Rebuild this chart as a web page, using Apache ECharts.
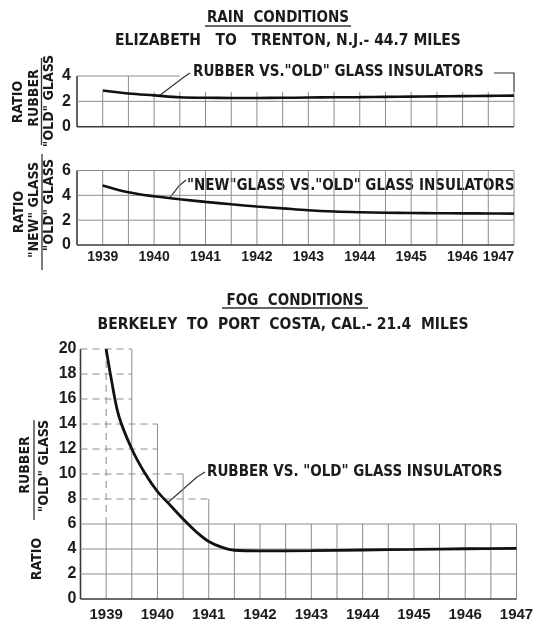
<!DOCTYPE html>
<html>
<head>
<meta charset="utf-8">
<script src="https://cdn.jsdelivr.net/npm/echarts@6/dist/echarts.min.js"></script>
<style>
  html, body { margin: 0; padding: 0; background: #fff; }
  #main { width: 537px; height: 622px; }
</style>
</head>
<body>
<div id="main"></div>
<script>
// years for the two rain curves (half-year readings)
var rainYears = [1939, 1939.5, 1940, 1940.5, 1941, 1941.5, 1942, 1942.5, 1943, 1943.5, 1944, 1944.5, 1945, 1945.5, 1946, 1946.5, 1947];
// rubber vs "old" glass, rain
var rubberRain = [2.86, 2.62, 2.47, 2.32, 2.28, 2.27, 2.27, 2.28, 2.3, 2.32, 2.33, 2.35, 2.37, 2.39, 2.41, 2.43, 2.45];
// "new" glass vs "old" glass, rain
var newGlassRain = [4.8, 4.25, 3.92, 3.68, 3.47, 3.28, 3.1, 2.95, 2.8, 2.7, 2.64, 2.6, 2.58, 2.56, 2.55, 2.54, 2.53];
// fog curve
var fogYears = [1939, 1939.1, 1939.25, 1939.5, 1939.75, 1940, 1940.25, 1940.5, 1940.75, 1941, 1941.25, 1941.5, 1942, 1943, 1944, 1945, 1946, 1947];
var rubberFog = [20, 17.6, 14.6, 12.0, 10.1, 8.6, 7.5, 6.4, 5.4, 4.6, 4.15, 3.9, 3.85, 3.87, 3.92, 3.97, 4.02, 4.05];

// axis labels
var yearLabels = [1939, 1940, 1941, 1942, 1943, 1944, 1945, 1946, 1947];
// stepped outline of the fog grid paper
var fogStepX = [1938.5, 1939.5, 1940, 1940.5, 1941, 1947];
var fogStepTop = [20, 14, 10, 8, 6];

var NUM_FONT = "'Liberation Sans', Arial, sans-serif";
var TXT_FONT = "'DejaVu Sans Condensed', 'DejaVu Sans', sans-serif";
var INK = '#1b1b1b';

var myChart = echarts.init(document.getElementById('main'));

//grid paper lines as segments [x1, y1, x2, y2, kind]
function halfYearList() {
    var a = [];
    for (var t = 1938.5; t <= 1947; t += 0.5) a.push(t);
    return a;
}
var halfYears = halfYearList();

function rubberRainGrid() {
    var s = [];
    halfYears.forEach(function (x) {
        var h = (x === 1938.5 || x === 1939.5) ? 4 : 2.75;
        s.push([x, 0, x, h, x === 1938.5 ? 2 : 0]);
    });
    s.push([1938.5, 0, 1947, 0, 2]);
    s.push([1938.5, 2, 1947, 2, 0]);
    s.push([1938.5, 4, 1940.5, 4, 0]);
    return s;
}
function newGlassGrid() {
    var s = [];
    halfYears.forEach(function (x) {
        s.push([x, 0, x, 6, x === 1938.5 ? 2 : 0]);
    });
    [0, 2, 4, 6].forEach(function (y) {
        s.push([1938.5, y, 1947, y, y === 0 ? 2 : 0]);
    });
    return s;
}
function fogGrid() {
    var s = [];
    halfYears.forEach(function (x) {
        var top = 0;
        for (var i = 0; i < fogStepTop.length; i++) {
            if (x >= fogStepX[i] && x <= fogStepX[i + 1]) top = Math.max(top, fogStepTop[i]);
        }
        if (x === 1938.5) { s.push([x, 0, x, top, 2]); return; }
        s.push([x, 0, x, Math.min(top, 6), 0]);
        if (top > 6) s.push([x, 6, x, top, x === 1939 ? 1 : 0]);
    });
    for (var y = 0; y <= 20; y += 2) {
        var end = 1938.5;
        for (var i = 0; i < fogStepTop.length; i++) {
            if (fogStepTop[i] >= y) end = fogStepX[i + 1];
        }
        s.push([1938.5, y, end, y, y === 0 ? 2 : (y > 6 ? 1 : 0)]);
    }
    return s;
}

function renderSeg(params, api) {
    var p1 = api.coord([api.value(0), api.value(1)]);
    var p2 = api.coord([api.value(2), api.value(3)]);
    var k = api.value(4);
    return {
        type: 'line',
        shape: { x1: p1[0], y1: p1[1], x2: p2[0], y2: p2[1] },
        style: {
            stroke: k === 2 ? '#3a3a3a' : '#8c8c8c',
            lineWidth: k === 2 ? 1.6 : 1,
            lineDash: k === 1 ? [7, 5] : null
        }
    };
}

function pairs(xs, ys) {
    return xs.map(function (x, i) { return [x, ys[i]]; });
}

function xAx(gridIndex, show, margin, size) {
    return {
        type: 'value', gridIndex: gridIndex, min: 1938.5, max: 1947, interval: 0.5,
        axisLine: { show: false }, axisTick: { show: false }, splitLine: { show: false },
        axisLabel: {
            show: show, margin: margin, color: INK, fontSize: size, fontWeight: 'bold', fontFamily: NUM_FONT,
            alignMaxLabel: gridIndex === 1 ? 'right' : 'center',
            formatter: function (v) { return yearLabels.indexOf(v) >= 0 ? String(v) : ''; }
        }
    };
}
function yAx(gridIndex, max, margin) {
    return {
        type: 'value', gridIndex: gridIndex, min: 0, max: max, interval: 2,
        axisLine: { show: false }, axisTick: { show: false }, splitLine: { show: false },
        axisLabel: { margin: margin, color: INK, fontSize: 16, fontWeight: 'bold', fontFamily: NUM_FONT }
    };
}

var option = {
    backgroundColor: '#fff',
    animation: false,
    grid: [
        { left: 77, right: 23, top: 76, height: 50.7 },
        { left: 77, right: 23, top: 170.5, height: 74.5 },
        { left: 80.5, right: 20.5, top: 349, height: 257 }
    ],
    xAxis: [xAx(0, false, 6, 15), xAx(1, true, 5, 14), xAx(2, true, 8, 15)],
    yAxis: [yAx(0, 4, 6), yAx(1, 6, 6), yAx(2, 20, 4)],
    series: [
        { type: 'custom', xAxisIndex: 0, yAxisIndex: 0, silent: true, renderItem: renderSeg, encode: { x: [0, 2], y: [1, 3] }, data: rubberRainGrid(), z: 1 },
        { type: 'custom', xAxisIndex: 1, yAxisIndex: 1, silent: true, renderItem: renderSeg, encode: { x: [0, 2], y: [1, 3] }, data: newGlassGrid(), z: 1 },
        { type: 'custom', xAxisIndex: 2, yAxisIndex: 2, silent: true, renderItem: renderSeg, encode: { x: [0, 2], y: [1, 3] }, data: fogGrid(), z: 1 },
        {
            name: 'rubber rain', type: 'line', xAxisIndex: 0, yAxisIndex: 0, data: pairs(rainYears, rubberRain),
            smooth: 0.35, showSymbol: false, silent: true, z: 3,
            lineStyle: { color: '#111', width: 2.6 }
        },
        {
            name: 'new glass rain', type: 'line', xAxisIndex: 1, yAxisIndex: 1, data: pairs(rainYears, newGlassRain),
            smooth: 0.35, showSymbol: false, silent: true, z: 3,
            lineStyle: { color: '#111', width: 2.6 }
        },
        {
            name: 'rubber fog', type: 'line', xAxisIndex: 2, yAxisIndex: 2, data: pairs(fogYears, rubberFog),
            smooth: 0.35, showSymbol: false, silent: true, z: 3,
            lineStyle: { color: '#111', width: 2.8 }
        }
    ]
};
myChart.setOption(option);

//titles, axis names, curve labels and their leader lines
function txt(x, y, s, size, rot, align) {
    return {
        type: 'text', x: x, y: y, rotation: rot || 0, silent: true,
        style: {
            text: s, fill: INK, fontSize: size, fontWeight: 'bold', fontFamily: TXT_FONT,
            align: align || 'center', verticalAlign: 'middle'
        }
    };
}
function ln(points, w) {
    return { type: 'polyline', silent: true, shape: { points: points }, style: { stroke: '#333', lineWidth: w || 1.2, fill: null } };
}
var V = Math.PI / 2;
var p1 = myChart.convertToPixel({ gridIndex: 0 }, [1940.1, 2.44]);
var p2 = myChart.convertToPixel({ gridIndex: 1 }, [1940.3, 3.78]);
var p3 = myChart.convertToPixel({ gridIndex: 2 }, [1940.2, 7.7]);
var pr = myChart.convertToPixel({ gridIndex: 0 }, [1947, 2.6]);

myChart.setOption({
    graphic: [
        txt(278, 18.5, 'RAIN  CONDITIONS', 15),
        ln([[205, 26], [351, 26]], 1.3),
        txt(288, 41, 'ELIZABETH   TO   TRENTON, N.J.- 44.7 MILES', 15.5),
        txt(295, 301, 'FOG  CONDITIONS', 15),
        ln([[222, 308], [368, 308]], 1.3),
        txt(283, 324.5, 'BERKELEY  TO  PORT  COSTA, CAL.- 21.4  MILES', 15.5),

        txt(18, 102, 'RATIO', 14, V),
        txt(34, 98, 'RUBBER', 14, V),
        ln([[41.5, 58], [41.5, 145]], 1.3),
        txt(49.5, 101, '"OLD" GLASS', 14, V),

        txt(19, 212, 'RATIO', 14, V),
        txt(34, 210, '"NEW" GLASS', 14, V),
        ln([[42, 154], [42, 270]], 1.3),
        txt(49.5, 205, '"OLD" GLASS', 14, V),

        txt(25, 465, 'RUBBER', 14, V),
        ln([[34, 420], [34, 520]], 1.3),
        txt(44.5, 466, '"OLD" GLASS', 14, V),
        txt(37, 559, 'RATIO', 14, V),

        txt(193, 72.5, 'RUBBER VS."OLD" GLASS INSULATORS', 15, 0, 'left'),
        ln([[190, 73], [184, 77], p1]),
        ln([[494, 73], [pr[0], 73], [pr[0], pr[1] - 2]]),
        txt(187, 186, '"NEW"GLASS VS."OLD" GLASS INSULATORS', 15, 0, 'left'),
        ln([[186, 180], [179, 186], p2]),
        txt(207, 472, 'RUBBER VS. "OLD" GLASS INSULATORS', 15, 0, 'left'),
        ln([[205, 472], [197, 477], p3])
    ]
});

window.addEventListener('resize', function () {
    myChart.resize();
});
</script>
</body>
</html>
